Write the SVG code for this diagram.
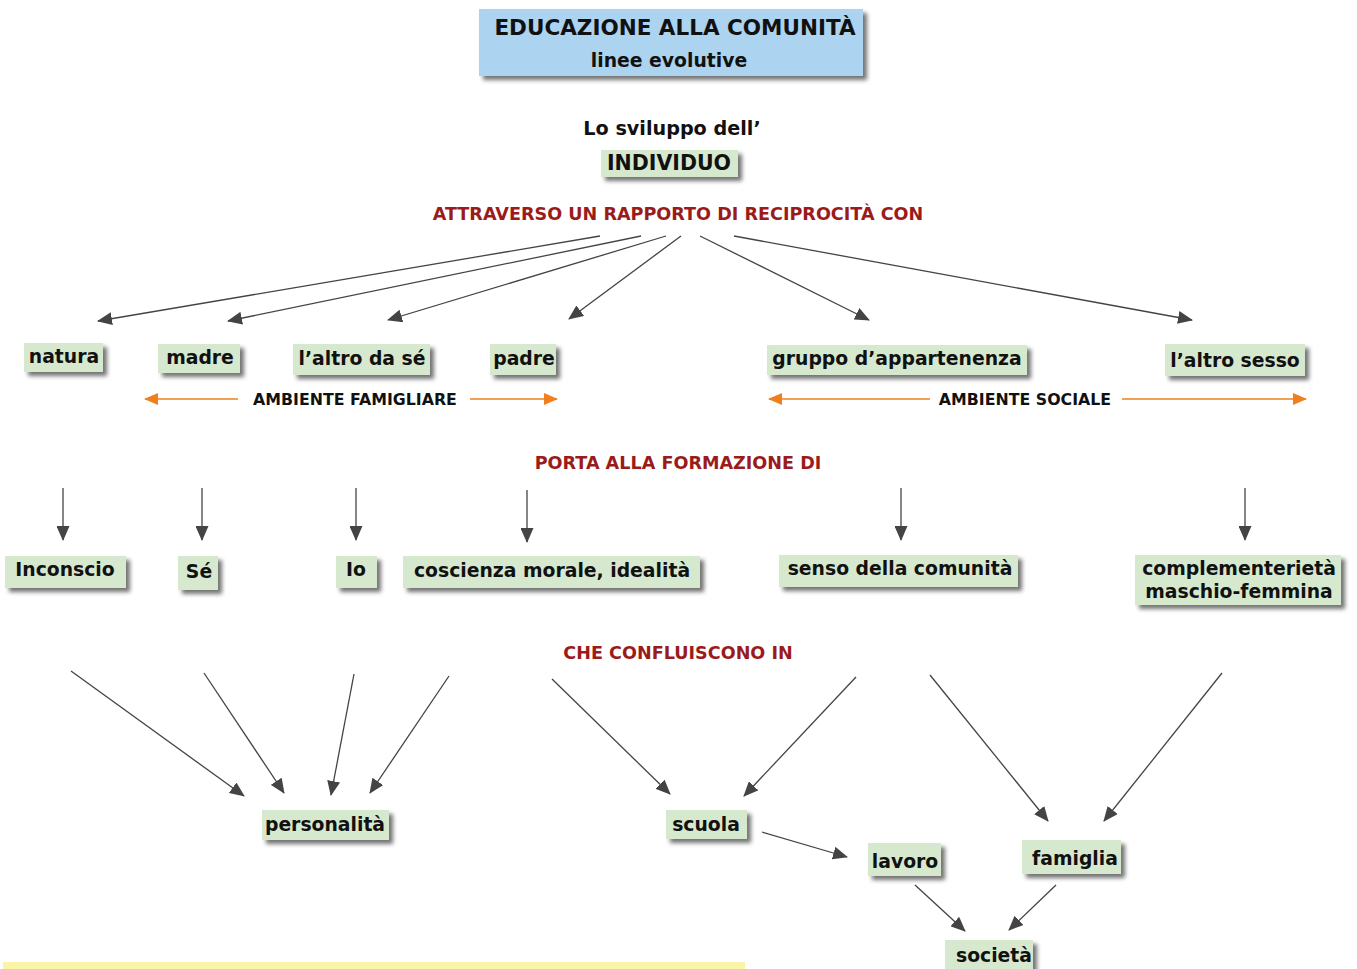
<svg xmlns="http://www.w3.org/2000/svg" width="1357" height="969" viewBox="0 0 1357 969">
<defs>
<filter id="sh" x="-20%" y="-30%" width="140%" height="180%">
<feDropShadow dx="4" dy="4" stdDeviation="2" flood-color="#000" flood-opacity="0.55"/>
</filter>
<marker id="ah" viewBox="0 0 15 13" refX="14" refY="6.5" markerWidth="15" markerHeight="13" markerUnits="userSpaceOnUse" orient="auto">
<path d="M0,0 L15,6.5 L0,13 Z" fill="#444"/>
</marker>
<marker id="oh" viewBox="0 0 14 12" refX="13" refY="6" markerWidth="14" markerHeight="12" markerUnits="userSpaceOnUse" orient="auto">
<path d="M0,0 L14,6 L0,12 Z" fill="#f07f1e"/>
</marker>
</defs>
<style>
text{font-family:"DejaVu Sans",Verdana,sans-serif;font-weight:bold;fill:#111;}
.n{font-size:18.8px;text-anchor:middle;}
.box{fill:#d6e9cf;filter:url(#sh);}
.red{fill:#9b1b1b;font-size:17.6px;text-anchor:middle;}
.lab{font-size:15.8px;text-anchor:middle;}
.c line{stroke:#444;stroke-width:1.3;marker-end:url(#ah);}
.o line{stroke:#f07f1e;stroke-width:1.3;marker-end:url(#oh);}
</style>
<rect x="0" y="0" width="1357" height="969" fill="#fff"/>

<g id="title">
<rect x="479" y="9" width="384" height="67" fill="#acd3f0" filter="url(#sh)"/>
<text class="n" x="675" y="35" style="font-size:21.5px">EDUCAZIONE ALLA COMUNITÀ</text>
<text class="n" x="669" y="67">linee evolutive</text>
</g>
<g id="lo-sviluppo"><text class="n" x="672" y="135" style="font-size:19.2px">Lo sviluppo dell’</text></g>
<g id="individuo">
<rect class="box" x="601" y="150" width="137" height="27"/>
<text class="n" x="669" y="170" style="font-size:20.5px">INDIVIDUO</text>
</g>
<g id="attraverso"><text class="red" x="678" y="220">ATTRAVERSO UN RAPPORTO DI RECIPROCITÀ CON</text></g>

<g id="natura"><rect class="box" x="24" y="343" width="79" height="29"/><text class="n" x="64" y="363">natura</text></g>
<g id="madre"><rect class="box" x="158" y="344" width="82" height="29"/><text class="n" x="200" y="364">madre</text></g>
<g id="altro-da-se"><rect class="box" x="293" y="344" width="137" height="31"/><text class="n" x="362" y="365">l’altro da sé</text></g>
<g id="padre"><rect class="box" x="490" y="344" width="66" height="31"/><text class="n" x="524" y="365">padre</text></g>
<g id="gruppo"><rect class="box" x="767" y="345" width="260" height="30"/><text class="n" x="897" y="365">gruppo d’appartenenza</text></g>
<g id="altro-sesso"><rect class="box" x="1165" y="344" width="140" height="32"/><text class="n" x="1235" y="367">l’altro sesso</text></g>

<g id="ambiente-famigliare"><text class="lab" x="355" y="405">AMBIENTE FAMIGLIARE</text></g>
<g id="ambiente-sociale"><text class="lab" x="1025" y="405">AMBIENTE SOCIALE</text></g>
<g id="porta"><text class="red" x="678" y="469">PORTA ALLA FORMAZIONE DI</text></g>

<g id="inconscio"><rect class="box" x="5" y="556" width="121" height="32"/><text class="n" x="65" y="576">Inconscio</text></g>
<g id="se"><rect class="box" x="178" y="556" width="40" height="34"/><text class="n" x="199" y="578">Sé</text></g>
<g id="io"><rect class="box" x="336" y="556" width="41" height="32"/><text class="n" x="356" y="576">Io</text></g>
<g id="coscienza"><rect class="box" x="403" y="556" width="297" height="32"/><text class="n" x="552" y="577">coscienza morale, idealità</text></g>
<g id="senso"><rect class="box" x="779" y="555" width="239" height="32"/><text class="n" x="900" y="575">senso della comunità</text></g>
<g id="complementerieta"><rect class="box" x="1135" y="555" width="206" height="50"/><text class="n" x="1239" y="575">complementerietà</text><text class="n" x="1239" y="598">maschio-femmina</text></g>

<g id="che"><text class="red" x="678" y="659">CHE CONFLUISCONO IN</text></g>

<g id="personalita"><rect class="box" x="262" y="810" width="127" height="30"/><text class="n" x="325" y="831">personalità</text></g>
<g id="scuola"><rect class="box" x="666" y="810" width="81" height="29"/><text class="n" x="706" y="831">scuola</text></g>
<g id="lavoro"><rect class="box" x="868" y="843" width="73" height="33"/><text class="n" x="905" y="868">lavoro</text></g>
<g id="famiglia"><rect class="box" x="1022" y="840" width="99" height="34"/><text class="n" x="1075" y="865">famiglia</text></g>
<g id="societa"><rect class="box" x="945" y="940" width="88" height="34"/><text class="n" x="994" y="962">società</text></g>

<g id="connectors">
<g class="c">
<line x1="600" y1="236" x2="98" y2="321"/>
<line x1="641" y1="236" x2="228" y2="321"/>
<line x1="666" y1="236" x2="388" y2="320"/>
<line x1="681" y1="236" x2="569" y2="319"/>
<line x1="700" y1="236" x2="869" y2="320"/>
<line x1="734" y1="236" x2="1192" y2="320"/>
<line x1="63" y1="488" x2="63" y2="540"/>
<line x1="202" y1="488" x2="202" y2="540"/>
<line x1="356" y1="488" x2="356" y2="540"/>
<line x1="527" y1="490" x2="527" y2="542"/>
<line x1="901" y1="488" x2="901" y2="540"/>
<line x1="1245" y1="488" x2="1245" y2="540"/>
<line x1="71" y1="671" x2="244" y2="796"/>
<line x1="204" y1="673" x2="284" y2="793"/>
<line x1="354" y1="674" x2="331" y2="795"/>
<line x1="449" y1="676" x2="370" y2="793"/>
<line x1="552" y1="679" x2="670" y2="794"/>
<line x1="856" y1="677" x2="744" y2="796"/>
<line x1="930" y1="675" x2="1048" y2="821"/>
<line x1="1222" y1="673" x2="1104" y2="821"/>
<line x1="762" y1="832" x2="847" y2="857"/>
<line x1="915" y1="885" x2="965" y2="931"/>
<line x1="1056" y1="885" x2="1009" y2="930"/>
</g>
<g class="o">
<line x1="238" y1="399" x2="145" y2="399"/>
<line x1="470" y1="399" x2="557" y2="399"/>
<line x1="930" y1="399" x2="769" y2="399"/>
<line x1="1122" y1="399" x2="1306" y2="399"/>
</g>
</g>
<rect x="3" y="962" width="742" height="7" fill="#f8f4a8"/>
</svg>
